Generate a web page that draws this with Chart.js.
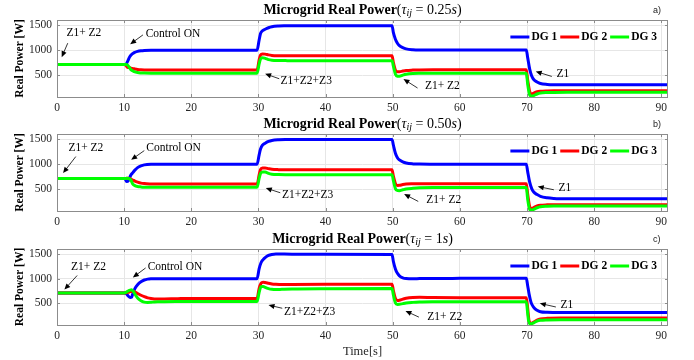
<!DOCTYPE html>
<html><head><meta charset="utf-8">
<script src="https://cdn.jsdelivr.net/npm/chart.js@4.4.1/dist/chart.umd.min.js"></script>
<style>
html,body{margin:0;padding:0;background:#fff;}
#wrap{position:relative;width:694px;height:360px;overflow:hidden;}
canvas{position:absolute;left:0;}
</style></head><body>
<div id="wrap">
<canvas id="c1" width="694" height="115" style="top:0;width:694px;height:115px"></canvas>
<canvas id="c2" width="694" height="115" style="top:115px;width:694px;height:115px"></canvas>
<canvas id="c3" width="694" height="130" style="top:230px;width:694px;height:130px"></canvas>
</div>
<script>
// ---------- data ----------
const seriesNames = ['DG 1', 'DG 2', 'DG 3'];
const seriesColors = ['#0000ff', '#ff0000', '#00ff00'];
const tauLabels = ['0.25', '0.50', '1'];
const panelLabels = ['a)', 'b)', 'c)'];
const xTicks = [0, 10, 20, 30, 40, 50, 60, 70, 80, 90];
const yTicks = [500, 1000, 1500];

// Panel a) tau = 0.25 s
const timeA = [0, 10, 10.3, 10.5, 10.8, 11, 11.5, 12, 12.5, 13, 14, 15,
  29.8, 30.1, 30.3, 30.6, 31, 31.5, 32, 33, 34, 35,
  49.9, 50.1, 50.4, 50.7, 51, 51.5, 52, 53, 54, 56,
  69.9, 70.1, 70.4, 70.7, 71, 71.5, 72, 73, 74, 76, 91];
const dg1A = [710, 710, 720, 770, 860, 900, 950, 975, 988, 995, 1000, 1000,
  1000, 1200, 1330, 1390, 1420, 1450, 1470, 1485, 1490, 1492,
  1492, 1350, 1220, 1140, 1090, 1050, 1025, 1008, 1004, 1004,
  1004, 850, 620, 480, 410, 360, 330, 312, 307, 306, 306];
const dg2A = [710, 710, 690, 655, 650, 640, 625, 612, 605, 602, 600, 600,
  600, 800, 900, 925, 920, 905, 895, 888, 886, 886,
  886, 750, 600, 565, 565, 580, 592, 600, 604, 606,
  606, 400, 170, 120, 140, 165, 175, 182, 185, 186, 186];
const dg3A = [710, 710, 710, 700, 650, 610, 570, 550, 543, 540, 538, 538,
  538, 720, 820, 848, 835, 810, 798, 792, 790, 788,
  788, 680, 520, 478, 476, 498, 515, 530, 535, 538,
  538, 320, 100, 78, 88, 120, 140, 150, 152, 153, 153];

// Panel b) tau = 0.50 s
const timeB = [0, 10, 10.2, 10.4, 10.6, 10.8, 11, 11.3, 11.6, 12, 12.5, 13, 14, 15,
  29.8, 30.1, 30.3, 30.6, 31, 31.5, 32, 33, 34, 36,
  49.9, 50.1, 50.4, 50.7, 51, 51.5, 52, 53, 54, 56,
  69.9, 70.1, 70.4, 70.7, 71, 71.5, 72, 73, 74, 75, 77, 91];
const dg1B = [710, 710, 690, 650, 660, 720, 780, 830, 880, 930, 965, 985, 998, 1000,
  1000, 1180, 1300, 1380, 1420, 1455, 1475, 1490, 1495, 1496,
  1496, 1380, 1220, 1130, 1085, 1045, 1022, 1005, 1001, 1000,
  1000, 850, 640, 510, 440, 390, 355, 325, 312, 307, 305, 305];
const dg2B = [710, 710, 712, 715, 715, 712, 700, 680, 660, 640, 620, 610, 603, 600,
  600, 780, 890, 925, 925, 910, 898, 890, 887, 886,
  886, 760, 610, 572, 575, 590, 600, 605, 606, 606,
  606, 400, 150, 110, 130, 160, 175, 183, 186, 186, 186, 186];
const dg3B = [710, 710, 712, 715, 712, 705, 680, 600, 570, 552, 543, 538, 536, 536,
  536, 710, 810, 845, 845, 815, 798, 790, 787, 786,
  786, 670, 510, 470, 468, 485, 500, 515, 525, 532,
  532, 300, 90, 80, 95, 125, 145, 155, 159, 160, 160, 160];

// Panel c) tau = 1 s
const timeC = [0, 10, 10.3, 10.6, 10.9, 11.1, 11.3, 11.6, 12, 12.5, 13, 13.5, 14, 14.5, 15, 16, 18, 20,
  29.8, 30.1, 30.4, 30.7, 31, 31.5, 32, 32.6, 33.5, 35, 40, 49.9,
  50.1, 50.4, 50.7, 51, 51.5, 52, 53, 54, 56, 60, 69.9,
  70.1, 70.3, 70.6, 71, 71.5, 72, 73, 75, 91];
const dg1C = [710, 710, 700, 650, 620, 625, 700, 800, 880, 940, 975, 993, 1000, 1002, 1002, 1002, 1002, 1002,
  1002, 1200, 1330, 1390, 1430, 1475, 1495, 1505, 1502, 1498, 1496, 1495,
  1350, 1200, 1110, 1060, 1020, 1005, 1000, 1003, 1006, 1008, 1010,
  860, 700, 520, 420, 360, 330, 318, 314, 314];
const dg2C = [710, 710, 715, 725, 738, 743, 745, 735, 700, 665, 635, 612, 598, 590, 588, 590, 596, 600,
  600, 800, 910, 930, 925, 910, 895, 887, 882, 884, 888, 890,
  760, 600, 560, 565, 585, 602, 618, 622, 618, 614, 612,
  400, 150, 95, 120, 160, 182, 195, 200, 200];
const dg3C = [710, 710, 725, 750, 770, 775, 755, 690, 610, 555, 525, 518, 522, 528, 532, 535, 536, 536,
  536, 720, 840, 845, 825, 800, 785, 780, 785, 792, 798, 800,
  670, 510, 478, 480, 495, 508, 520, 527, 532, 534, 534,
  300, 100, 85, 105, 140, 155, 163, 166, 166];

// annotation texts (anchor in data units: text left/middle, arrow tail, arrow tip)
const notesA = [
  {text: 'Z1+ Z2', at: [1.4, 1346], tail: [1.6, 1140], tip: [0.7, 860]},
  {text: 'Control ON', at: [13.2, 1326], tail: [12.8, 1306], tip: [10.9, 1120]},
  {text: 'Z1+Z2+Z3', at: [33.3, 386], tail: [33.1, 426], tip: [31.0, 526]},
  {text: 'Z1+ Z2', at: [54.8, 272], tail: [53.7, 240], tip: [51.6, 420]},
  {text: 'Z1', at: [74.4, 526], tail: [73.7, 472], tip: [71.3, 572]}
];
const notesB = [
  {text: 'Z1+ Z2', at: [1.7, 1320], tail: [2.8, 1152], tip: [0.9, 820]},
  {text: 'Control ON', at: [13.3, 1320], tail: [13.0, 1272], tip: [11.05, 1086]},
  {text: 'Z1+Z2+Z3', at: [33.5, 386], tail: [33.25, 426], tip: [31.1, 520]},
  {text: 'Z1+ Z2', at: [55.0, 286], tail: [53.8, 252], tip: [51.7, 400]},
  {text: 'Z1', at: [74.7, 520], tail: [74.0, 486], tip: [71.6, 552]}
];
const notesC = [
  {text: 'Z1+ Z2', at: [2.1, 1234], tail: [3.0, 1066], tip: [1.1, 780]},
  {text: 'Control ON', at: [13.5, 1246], tail: [13.2, 1220], tip: [11.3, 1026]},
  {text: 'Z1+Z2+Z3', at: [33.8, 334], tail: [33.55, 400], tip: [31.5, 466]},
  {text: 'Z1+ Z2', at: [55.15, 226], tail: [53.9, 220], tip: [51.9, 346]},
  {text: 'Z1', at: [75.0, 460], tail: [74.3, 426], tip: [71.9, 500]}
];

// ---------- drawing ----------
const SERIF = '"Liberation Serif", "Times New Roman", serif';
Chart.defaults.font.family = SERIF;

function makePanel(id, idx, times, vals, notes, opts) {
  const datasets = vals.map((v, i) => ({
    label: seriesNames[i],
    data: times.map((t, k) => ({x: t, y: v[k]})),
    borderColor: seriesColors[i],
    backgroundColor: seriesColors[i],
    borderWidth: 3,
    pointRadius: 0,
    cubicInterpolationMode: 'monotone',
    order: 2 - i
  }));

  const decor = {
    id: 'decor' + idx,
    afterDatasetsDraw(chart) {
      const ctx = chart.ctx, a = chart.chartArea;
      const xs = chart.scales.x, ys = chart.scales.y;
      ctx.save();
      // axes box + inward ticks
      ctx.strokeStyle = '#8c8c8c';
      ctx.lineWidth = 1;
      ctx.strokeRect(Math.round(a.left) + 0.5, Math.round(a.top) + 0.5,
        Math.round(a.right - a.left) - 1, Math.round(a.bottom - a.top));
      ctx.beginPath();
      xTicks.forEach(v => {
        const px = Math.round(xs.getPixelForValue(v)) + 0.5;
        ctx.moveTo(px, a.top); ctx.lineTo(px, a.top + 3);
        ctx.moveTo(px, a.bottom); ctx.lineTo(px, a.bottom - 3);
      });
      yTicks.forEach(v => {
        const py = Math.round(ys.getPixelForValue(v)) + 0.5;
        ctx.moveTo(a.left, py); ctx.lineTo(a.left + 3, py);
        ctx.moveTo(a.right, py); ctx.lineTo(a.right - 3, py);
      });
      ctx.stroke();

      // annotations
      ctx.fillStyle = '#000'; ctx.strokeStyle = '#000';
      ctx.font = '11.5px ' + SERIF;
      ctx.textAlign = 'left'; ctx.textBaseline = 'middle';
      notes.forEach(n => {
        const x0 = xs.getPixelForValue(n.tail[0]), y0 = ys.getPixelForValue(n.tail[1]);
        const x1 = xs.getPixelForValue(n.tip[0]), y1 = ys.getPixelForValue(n.tip[1]);
        const ang = Math.atan2(y1 - y0, x1 - x0);
        const L = 6, W = 2.6;
        ctx.lineWidth = 0.8;
        ctx.beginPath();
        ctx.moveTo(x0, y0);
        ctx.lineTo(x1 - Math.cos(ang) * L * 0.8, y1 - Math.sin(ang) * L * 0.8);
        ctx.stroke();
        ctx.beginPath();
        ctx.moveTo(x1, y1);
        ctx.lineTo(x1 - Math.cos(ang) * L - Math.sin(ang) * W, y1 - Math.sin(ang) * L + Math.cos(ang) * W);
        ctx.lineTo(x1 - Math.cos(ang) * L + Math.sin(ang) * W, y1 - Math.sin(ang) * L - Math.cos(ang) * W);
        ctx.closePath();
        ctx.fill();
        ctx.fillText(n.text, xs.getPixelForValue(n.at[0]), ys.getPixelForValue(n.at[1]));
      });

      // legend (inside plot, top right)
      ctx.font = 'bold 11.5px ' + SERIF;
      const lineLen = 19, gap1 = 2, gap2 = 3;
      let total = 0;
      seriesNames.forEach((s, i) => {
        total += lineLen + gap1 + ctx.measureText(s).width + (i < seriesNames.length - 1 ? gap2 : 0);
      });
      let lx = a.right - 11 - total;
      const ly = a.top + 17;
      seriesNames.forEach((s, i) => {
        ctx.strokeStyle = seriesColors[i]; ctx.lineWidth = 3;
        ctx.beginPath(); ctx.moveTo(lx, ly); ctx.lineTo(lx + lineLen, ly); ctx.stroke();
        lx += lineLen + gap1;
        ctx.fillStyle = '#000';
        ctx.fillText(s, lx, ly + 0.5);
        lx += ctx.measureText(s).width + gap2;
      });
      ctx.restore();
    },
    afterDraw(chart) {
      const ctx = chart.ctx, a = chart.chartArea;
      ctx.save();
      // title with math part
      const parts = [
        {t: 'Microgrid Real Power', f: 'bold 14px ' + SERIF, dy: 0},
        {t: '(', f: '14px ' + SERIF, dy: 0},
        {t: '\u03C4', f: 'italic 14px ' + SERIF, dy: 0},
        {t: 'ij', f: 'italic 10px ' + SERIF, dy: 3},
        {t: ' = ' + tauLabels[idx], f: '14px ' + SERIF, dy: 0},
        {t: 's', f: 'italic 14px ' + SERIF, dy: 0},
        {t: ')', f: '14px ' + SERIF, dy: 0}
      ];
      let w = 0;
      parts.forEach(p => { ctx.font = p.f; p.w = ctx.measureText(p.t).width; w += p.w; });
      let tx = (a.left + a.right) / 2 - w / 2;
      ctx.fillStyle = '#000'; ctx.textAlign = 'left'; ctx.textBaseline = 'middle';
      parts.forEach(p => { ctx.font = p.f; ctx.fillText(p.t, tx, opts.titleY + p.dy); tx += p.w; });
      // panel letter
      ctx.font = '9px "Liberation Sans", Arial, sans-serif';
      ctx.fillStyle = '#222';
      ctx.fillText(panelLabels[idx], 653, opts.titleY + 0.5);
      ctx.restore();
    }
  };

  return new Chart(document.getElementById(id), {
    type: 'line',
    data: {datasets},
    plugins: [decor],
    options: {
      responsive: false,
      animation: false,
      devicePixelRatio: 1,
      layout: {padding: {left: 0, right: 26, top: opts.top, bottom: 0}},
      plugins: {legend: {display: false}, tooltip: {enabled: false}, title: {display: false}},
      scales: {
        x: {
          type: 'linear', min: 0, max: 91,
          afterBuildTicks: s => { s.ticks = xTicks.map(v => ({value: v})); },
          afterFit: s => { s.height = opts.xh; },
          grid: {color: '#e6e6e6', drawTicks: false},
          border: {display: false},
          ticks: {padding: 4, color: '#262626', font: {size: 11.5}, maxRotation: 0,
            callback: v => String(v)},
          title: opts.xTitle ? {display: true, text: 'Time[s]', color: '#262626',
            font: {size: 12.5}, padding: {top: 0, bottom: 1}} : {display: false}
        },
        y: {
          type: 'linear', min: 60, max: 1605,
          afterBuildTicks: s => { s.ticks = yTicks.map(v => ({value: v})); },
          afterFit: s => { s.width = 57; },
          grid: {color: '#e6e6e6', drawTicks: false},
          border: {display: false},
          ticks: {padding: 5, color: '#262626', font: {size: 11.5}, callback: v => String(v)},
          title: {display: true, text: 'Real Power [W]', color: '#000',
            font: {size: 11.5, weight: 'bold'}, padding: {top: 13, bottom: 0}}
        }
      }
    }
  });
}

makePanel('c1', 0, timeA, [dg1A, dg2A, dg3A], notesA, {top: 20, xh: 18, titleY: 10});
makePanel('c2', 1, timeB, [dg1B, dg2B, dg3B], notesB, {top: 19, xh: 19, titleY: 9});
makePanel('c3', 2, timeC, [dg1C, dg2C, dg3C], notesC, {top: 19, xh: 35, titleY: 9, xTitle: true});
</script>
</body></html>
